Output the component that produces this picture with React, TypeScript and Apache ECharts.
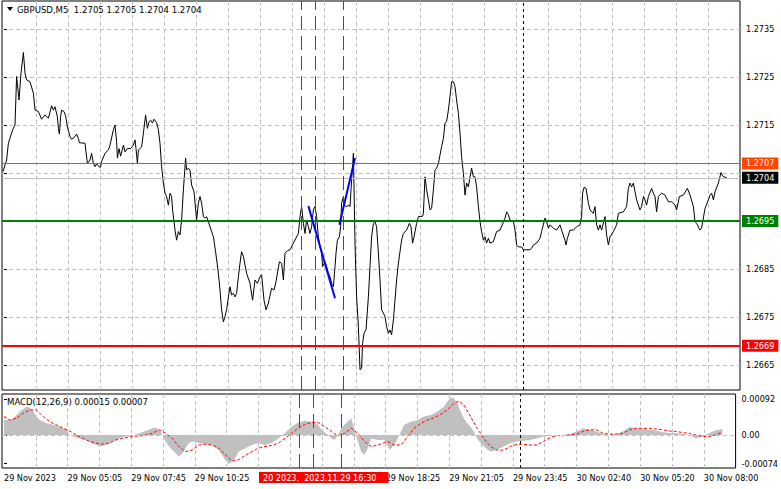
import React, { useEffect, useRef } from 'react';
import * as echarts from 'echarts';

const FONT = "'DejaVu Sans Condensed', 'Liberation Sans', Arial, sans-serif";

const SYMBOL = 'GBPUSD,M5';
const LAST_OHLC = [1.2705, 1.2705, 1.2704, 1.2704];
const MACD_PARAMS = '12,26,9';
const MACD_LAST = [0.00015, 0.00007];

// [bar number (5-minute bars from left edge), close price]
const CLOSE_POINTS: [number, number][] = [
  [-0.5,1.27053],[1.3,1.27077],[2.2,1.27112],[4.3,1.2714],[5.5,1.2715],[6.3,1.27251],[7.5,1.27202],[8.5,1.27258],[9.7,1.27301],[10.5,1.27258],
  [11.3,1.27244],[13,1.2724],[14.7,1.27216],[15.5,1.27181],[17.2,1.27178],[18.8,1.27162],[20.5,1.27171],[22.2,1.27164],[23.8,1.2719],[24.7,1.27181],
  [25.5,1.27188],[26.7,1.27167],[27.2,1.27143],[27.7,1.27131],[28.3,1.27167],[28.8,1.27181],[30,1.27178],[30.8,1.27169],[31.7,1.27146],[33,1.27126],
  [33.8,1.2712],[35.5,1.27126],[36.3,1.27131],[37.2,1.27122],[37.7,1.27113],[40.5,1.27112],[41,1.27094],[41.7,1.2707],[43,1.27077],[43.8,1.27091],
  [44.7,1.2707],[45.5,1.27063],[46.3,1.27069],[47.5,1.27063],[48.3,1.27062],[48.8,1.27074],[50.5,1.27091],[52.2,1.27098],[53,1.27108],[54.7,1.2714],
  [55.5,1.2715],[56.3,1.27115],[56.7,1.27081],[57.5,1.27101],[58.3,1.27085],[59.7,1.27108],[60.5,1.27094],[61.7,1.27101],[63.3,1.27101],[64.7,1.27108],
  [65.5,1.27119],[66,1.27101],[66.7,1.2707],[67.2,1.27098],[68.8,1.27104],[69.7,1.27133],[70.8,1.27171],[71.7,1.27143],[72.5,1.27157],[73.3,1.2716],
  [74.2,1.27154],[75,1.27162],[76.3,1.27155],[77.2,1.2714],[78,1.27112],[78.8,1.27063],[79.7,1.27029],[80.5,1.27008],[81.3,1.27001],[82.2,1.26983],
  [83,1.27008],[83.8,1.27001],[84.3,1.26973],[85.5,1.26931],[86.3,1.2691],[87.2,1.26928],[88,1.26921],[88.8,1.26952],[89.7,1.27015],[90.8,1.27081],
  [91.3,1.27056],[92.2,1.2706],[93,1.27056],[93.8,1.27025],[95,1.27011],[96.3,1.26952],[97.2,1.26987],[98,1.27001],[98.8,1.26987],[99.7,1.26959],
  [100.5,1.26956],[101.3,1.26959],[103,1.26938],[104.7,1.26917],[105.8,1.26886],[107.2,1.26841],[108,1.26806],[108.8,1.26765],[109.7,1.2674],[110.5,1.26751],
  [111.3,1.26765],[112.2,1.26792],[113,1.26813],[113.8,1.26796],[114.7,1.26799],[115.5,1.26792],[116.3,1.26799],[117.2,1.26834],[118,1.26862],[118.8,1.26886],
  [119.7,1.26876],[121.3,1.26841],[123,1.2682],[124.3,1.26785],[125.5,1.26827],[126.7,1.2682],[128,1.26834],[128.8,1.26838],[130,1.26785],[131,1.26765],
  [132.2,1.26779],[133.8,1.2681],[135,1.26806],[136,1.26824],[137.7,1.26865],[138.8,1.26862],[139.7,1.26827],[140.5,1.26883],[141.7,1.26888],[143,1.2689],
  [144.7,1.26904],[147.2,1.26924],[148,1.26959],[148.8,1.2698],[149.7,1.26945],[150.5,1.26924],[151.3,1.26952],[152.2,1.26938],[153,1.26924],[153.8,1.26938],
  [154.7,1.26973],[155.5,1.2698],[156.3,1.26959],[157.2,1.26917],[158,1.26896],[158.8,1.26883],[159.3,1.26855],[160.5,1.26865],[161.3,1.26855],[162.2,1.26841],
  [163,1.26834],[163.8,1.2682],[164.7,1.26813],[165.5,1.26855],[166,1.26883],[166.7,1.2691],[167.7,1.26917],[168.3,1.26938],[168.8,1.26987],[169.7,1.27001],
  [170,1.26983],[171.3,1.2698],[172.5,1.26983],[173,1.2698],[173.8,1.27035],[174.7,1.27091],[175.5,1.26904],[176.3,1.26792],[177.2,1.2673],[178,1.2664],
  [178.8,1.26643],[179.3,1.26695],[180,1.26716],[181,1.26723],[182.2,1.26792],[183,1.26855],[183.8,1.26917],[184.7,1.26945],[185.5,1.26949],[186.3,1.26938],
  [187.2,1.26883],[188,1.26827],[188.8,1.26765],[189.7,1.26758],[190.5,1.26751],[191.3,1.2673],[192.2,1.26716],[193,1.26723],[193.8,1.26713],[194.7,1.26744],
  [195.5,1.26785],[196.3,1.26827],[197.2,1.26862],[198.8,1.2691],[199.7,1.26924],[201.3,1.26931],[202.7,1.26945],[203.5,1.26938],[204.3,1.26904],[205,1.26917],
  [206.3,1.26945],[207.2,1.26959],[209.3,1.2696],[209.7,1.26966],[210.5,1.27042],[211.3,1.27015],[212.2,1.26994],[213,1.26973],[213.8,1.26976],[214.7,1.27015],
  [215.5,1.27056],[216.3,1.2706],[217.2,1.2707],[218.8,1.27105],[219.7,1.27122],[220.5,1.27154],[221.3,1.27157],[222.2,1.27181],[223,1.27209],[223.8,1.2724],
  [224.7,1.2724],[225.5,1.2723],[226.3,1.27202],[227.2,1.27174],[228,1.27133],[228.8,1.27084],[229.7,1.27049],[230.5,1.27004],[231.3,1.27029],[232.2,1.27021],
  [233,1.27042],[233.8,1.2706],[234.7,1.27042],[235.5,1.27042],[236.3,1.27021],[237.2,1.2698],[238,1.26949],[238.8,1.26928],[239.7,1.2691],[240.5,1.26917],
  [241.3,1.26904],[242.2,1.26914],[243,1.26904],[244.7,1.26907],[246.3,1.26928],[248,1.26931],[250.5,1.26956],[251.3,1.26969],[252.2,1.26963],[253,1.26952],
  [254.7,1.26949],[255.5,1.26931],[256.3,1.269],[257.2,1.26896],[258.8,1.26896],[259.7,1.2689],[263,1.2689],[263.8,1.26893],[264.7,1.269],[266.3,1.26904],
  [268,1.26914],[268.8,1.26928],[270.5,1.26956],[271.3,1.26949],[272.2,1.26935],[273,1.26942],[274.7,1.26935],[276.3,1.26931],[278,1.26942],[278.8,1.26931],
  [280.5,1.2691],[281,1.269],[281.7,1.26914],[283,1.26931],[284.7,1.26931],[286.3,1.26938],[288,1.26942],[288.8,1.26959],[289.3,1.27008],[290,1.2702],
  [291,1.27018],[292.2,1.26987],[293,1.26973],[294.7,1.26966],[295.5,1.2698],[296.3,1.26942],[297.2,1.26931],[298,1.26942],[298.8,1.26931],[300.5,1.26959],
  [301.3,1.26921],[302.2,1.269],[303,1.26917],[304.7,1.26928],[306.3,1.26942],[307.2,1.26966],[309.7,1.26969],[311.3,1.2698],[312.2,1.27018],[313,1.27029],
  [313.8,1.27021],[314.7,1.27029],[315.5,1.27011],[316.3,1.26994],[318,1.26973],[318.8,1.2698],[319.7,1.27001],[320.5,1.26994],[321.3,1.26983],[322.2,1.27001],
  [323.8,1.27018],[324.7,1.27008],[325.5,1.27001],[326.3,1.26969],[327.2,1.27001],[328.8,1.27008],[330.5,1.27004],[332.2,1.2699],[333.8,1.2699],[335.5,1.26983],
  [336.3,1.26973],[337.7,1.27001],[339.7,1.27004],[341.7,1.27018],[343,1.27004],[344.7,1.2698],[345.5,1.26949],[346.3,1.26945],[348,1.26931],[348.8,1.26935],
  [350.5,1.26976],[352.2,1.26994],[353,1.27004],[353.8,1.27008],[354.7,1.26994],[355.5,1.27011],[357.2,1.27029],[358.5,1.27051],[359.3,1.27044],[360.5,1.27041],
  [361.3,1.27041]
];

const MACD_HIST: [number, number][] = [
  [0,0.00038],[3,0.00038],[4.7,0.00043],[8,0.0006],[11.3,0.00072],[13,0.0007],[14.7,0.0006],[16.3,0.00047],[18,0.00038],[21.3,0.0003],
  [24.7,0.00026],[28,0.00021],[31.3,0.00013],[33,0],[34.7,-0.00004],[38,-0.00009],[41.3,-0.00013],[44.7,-0.00022],[48,-0.00029],[51.3,-0.00026],
  [54.7,-0.00017],[58,-0.00009],[61.3,-0.00004],[64.7,-0.00002],[68,0.00004],[71.3,0.0001],[74.7,0.00017],[76.3,0.00019],[78,0.00013],[79.7,0],
  [81.3,-0.00017],[83,-0.0003],[84.7,-0.00039],[86.3,-0.00047],[88,-0.00056],[89.7,-0.00047],[91.3,-0.00034],[93,-0.00021],[94.7,-0.00017],[98,-0.00021],
  [101.3,-0.00024],[104.7,-0.00026],[108,-0.00039],[111.3,-0.00064],[113,-0.00075],[114.7,-0.00069],[116.3,-0.0006],[118,-0.00043],[121.3,-0.00034],[124.7,-0.00026],
  [128,-0.00021],[131.3,-0.00026],[134.7,-0.00021],[138,-0.00009],[141.3,0.00004],[143,0.00013],[144.7,0.00021],[148,0.00032],[151.3,0.00036],[154.7,0.00034],
  [158,0.00026],[159.7,0.00013],[163,0],[164.7,-0.00009],[166.3,-0.00013],[168,0],[169.7,0.00017],[171.3,0.00027],[174.7,0.00043],[176.3,0.00013],
  [178,-0.00017],[179.7,-0.00043],[181.3,-0.00051],[183,-0.00034],[184.7,-0.00009],[188,-0.00013],[191.3,-0.00013],[194,-0.00039],[196.3,-0.00026],[198,-0.00009],
  [199.7,0.00009],[201.3,0.00026],[204.7,0.00034],[208,0.00038],[211.3,0.00047],[214.7,0.00051],[218,0.0006],[221.3,0.00072],[223,0.00086],[224.7,0.00096],
  [226.3,0.00094],[228,0.00081],[229.7,0.0006],[231.3,0.00043],[233,0.0003],[234.7,0.00021],[236.3,0.00009],[238,-0.00009],[239.7,-0.00021],[241.3,-0.0003],
  [244.7,-0.00043],[248,-0.00039],[251.3,-0.0003],[254.7,-0.00021],[258,-0.00017],[261.3,-0.00015],[264.7,-0.00013],[268,-0.00009],[271.3,-0.00004],[274.7,-0.00002],
  [278,0],[281.3,0],[284.7,0.00002],[288,0.00009],[291.3,0.00017],[294.7,0.00013],[298,0.00009],[301.3,0.00002],[304.7,0],[308,0.00002],
  [311.3,0.00009],[314.7,0.00021],[318,0.00017],[321.3,0.00017],[324.7,0.00013],[328,0.00011],[331.3,0.00007],[334.7,0.00004],[338,0.00004],[341.3,0.00002],
  [344.7,0],[348,-0.00009],[351.3,-0.00004],[354.5,0.00004],[358,0.00012],[361.3,0.00015]
];

const MACD_SIGNAL: [number, number][] = [
  [0,0.00047],[3,0.00038],[6.3,0.00043],[9.7,0.00056],[13,0.00064],[16.3,0.00064],[19.7,0.00047],[23,0.00034],[26.3,0.00026],[29.7,0.00017],
  [33,0.0001],[36.3,0],[39.7,-0.00009],[43,-0.00017],[46.3,-0.00021],[49.7,-0.00024],[53,-0.00021],[56.3,-0.00013],[59.7,-0.00009],[64.7,-0.00004],
  [69.7,-0.00002],[74.7,0.00004],[78,0.00013],[81.3,0.00004],[84.7,-0.00009],[88,-0.0003],[91.3,-0.00043],[94.7,-0.00039],[98,-0.00026],[101.3,-0.00024],
  [104.7,-0.00026],[108,-0.00034],[111.3,-0.00051],[114.7,-0.00067],[118,-0.00064],[121.3,-0.00053],[124.7,-0.00043],[128,-0.00034],[131.3,-0.0003],[134.7,-0.00027],
  [138,-0.00021],[141.3,-0.00009],[144.7,0.00004],[148,0.00017],[151.3,0.00027],[154.7,0.00032],[158,0.00032],[161.3,0.00021],[164.7,0.00009],[168,-0.00003],
  [171.3,0.00004],[174.7,0.00017],[178,0.00004],[181.3,-0.00017],[184.7,-0.0003],[188,-0.00026],[193,-0.00017],[196.3,-0.00026],[199.7,-0.00026],[203,-0.00004],
  [206.3,0.00017],[209.7,0.0003],[213,0.00038],[216.3,0.00044],[219.7,0.00053],[223,0.00064],[226.3,0.00081],[228.8,0.00087],[231.3,0.00077],[234.7,0.00047],
  [238,0.00017],[241.3,-0.00009],[244.7,-0.0003],[248,-0.00039],[251.3,-0.00039],[254.7,-0.0003],[258,-0.00024],[261.3,-0.00024],[264.7,-0.00026],[268,-0.00026],
  [271.3,-0.00017],[274.7,-0.00007],[278,-0.00002],[281.3,-0.00002],[284.7,0],[288,0.00002],[291.3,0.00009],[294.7,0.00013],[298,0.00013],[301.3,0.00004],
  [304.7,0.00002],[308,0.00002],[311.3,0.00004],[314.7,0.00013],[318,0.00017],[321.3,0.00017],[324.7,0.00017],[328,0.00015],[331.3,0.00013],[334.7,0.0001],
  [338,0.00009],[341.3,0.00006],[344.7,0.00004],[348,0],[351.3,-0.00004],[355,-0.00004],[358,0],[361.3,0.00007]
];

const TREND_DOWN: [number, number][] = [[152.2, 1.26981], [165.5, 1.26789]];
const TREND_UP: [number, number][] = [[167.7, 1.26942], [175.5, 1.27081]];

const LEVEL_HIGH = 1.2707;
const LEVEL_BID = 1.2704;
const LEVEL_SUPPORT = 1.2695;
const LEVEL_LOW = 1.2669;

const EVENT_BARS = [148.5, 155.5, 169.5];
const DAY_SEPARATOR_BAR = 259.5;
const EVENT_LABEL = '20 2023.  2023.11.29 16:30';

const PRICE_GRID_LEVELS = [1.2665, 1.2675, 1.2685, 1.2695, 1.2705, 1.2715, 1.2725, 1.2735];
const PRICE_LABEL_LEVELS = [1.2665, 1.2675, 1.2685, 1.2715, 1.2725, 1.2735];
const TIME_GRID_BARS = [16, 32, 48, 64, 80, 96, 112, 128, 144, 160, 176, 192, 208, 224, 240, 256, 272, 288, 304, 320, 336, 352];
const TIME_LABEL_BARS = [0, 32, 64, 96, 192, 224, 256, 288, 320, 352];
const TIME_LABELS = ['29 Nov 2023', '29 Nov 05:05', '29 Nov 07:45', '29 Nov 10:25', '29 Nov 18:25', '29 Nov 21:05', '29 Nov 23:45', '30 Nov 02:40', '30 Nov 05:20', '30 Nov 08:00'];
const MACD_LABEL_LEVELS = [0.00092, 0, -0.00074];

const GRID_LINE = { color: '#c0c0c0', width: 1, type: [4, 3] as number[] };

function levelLine(value: number, color: string, width: number) {
  return {
    yAxis: value,
    lineStyle: { color, width, type: 'solid' },
    label: {
      show: true,
      position: 'end',
      distance: 2,
      formatter: () => value.toFixed(4),
      backgroundColor: color === '#c0c0c0' ? '#000' : color,
      color: '#fff',
      padding: [2, 4, 1, 4],
      fontSize: 9,
      fontFamily: FONT,
    },
  };
}

function eventLines() {
  return [
    ...EVENT_BARS.map((b) => ({ xAxis: b, lineStyle: { color: '#ff0000', width: 1, type: [14, 6] } })),
    { xAxis: DAY_SEPARATOR_BAR, lineStyle: { color: '#000', width: 1, type: [3, 3] } },
  ];
}

export default function App() {
  const ref = useRef<HTMLDivElement>(null);
  useEffect(() => {
    document.body.style.margin = '0';
    if (!ref.current) return;
    const chart = echarts.init(ref.current, undefined, { renderer: 'svg' });
    const xCommon = {
      type: 'value',
      min: -1,
      max: 368,
      axisLine: { show: false },
      axisTick: { show: false, customValues: TIME_GRID_BARS },
      splitLine: { show: true, lineStyle: GRID_LINE },
    };
    const option: any = {
      animation: false,
      backgroundColor: '#fff',
      textStyle: { fontFamily: FONT },
      grid: [
        { left: 2, right: 41, top: 1, height: 389, show: true, borderColor: '#000', borderWidth: 1, backgroundColor: '#fff' },
        { left: 2, right: 41, top: 394, height: 74, show: true, borderColor: '#000', borderWidth: 1, backgroundColor: '#fff' },
      ],
      xAxis: [
        { ...xCommon, gridIndex: 0, axisLabel: { show: false } },
        {
          ...xCommon,
          gridIndex: 1,
          axisLabel: {
            show: true,
            customValues: TIME_LABEL_BARS,
            formatter: (v: number) => TIME_LABELS[TIME_LABEL_BARS.indexOf(v)] ?? '',
            align: 'left',
            margin: 5,
            color: '#000',
            fontSize: 9,
            fontFamily: FONT,
          },
        },
      ],
      yAxis: [
        {
          type: 'value',
          gridIndex: 0,
          position: 'right',
          min: 1.265979,
          max: 1.274083,
          axisLine: { show: false },
          axisTick: { show: true, length: 3, customValues: PRICE_GRID_LEVELS, lineStyle: { color: '#000' } },
          axisLabel: {
            customValues: PRICE_LABEL_LEVELS,
            formatter: (v: number) => v.toFixed(4),
            margin: 6,
            color: '#000',
            fontSize: 9,
            fontFamily: FONT,
          },
          splitLine: { show: true, lineStyle: GRID_LINE },
        },
        {
          type: 'value',
          gridIndex: 1,
          position: 'right',
          min: -0.00085,
          max: 0.00105,
          axisLine: { show: false },
          axisTick: { show: true, length: 3, customValues: MACD_LABEL_LEVELS, lineStyle: { color: '#000' } },
          axisLabel: {
            customValues: MACD_LABEL_LEVELS,
            formatter: (v: number) => (v === 0 ? '0.00' : v.toFixed(5)),
            margin: 6,
            color: '#000',
            fontSize: 9,
            fontFamily: FONT,
          },
          splitLine: { show: false },
        },
      ],
      series: [
        {
          type: 'line',
          xAxisIndex: 0,
          yAxisIndex: 0,
          data: CLOSE_POINTS,
          symbol: 'none',
          lineStyle: { color: '#000', width: 1 },
          z: 4,
          markLine: {
            silent: true,
            precision: 6,
            symbol: ['none', 'none'],
            data: [
              levelLine(LEVEL_BID, '#c0c0c0', 1),
              levelLine(LEVEL_SUPPORT, '#008000', 2),
              levelLine(LEVEL_LOW, '#ff0000', 2),
              levelLine(LEVEL_HIGH, '#ff4500', 1),
              ...eventLines().map((d) => ({ ...d, label: { show: false } })),
            ],
          },
        },
        {
          type: 'line', xAxisIndex: 0, yAxisIndex: 0, data: TREND_DOWN, symbol: 'none',
          lineStyle: { color: '#0000ff', width: 2 }, z: 5,
        },
        {
          type: 'line', xAxisIndex: 0, yAxisIndex: 0, data: TREND_UP, symbol: 'none',
          lineStyle: { color: '#0000ff', width: 2 }, z: 5,
        },
        {
          type: 'line',
          xAxisIndex: 1,
          yAxisIndex: 1,
          data: MACD_HIST,
          symbol: 'none',
          lineStyle: { width: 0, color: '#c0c0c0' },
          areaStyle: { color: '#c0c0c0', opacity: 1 },
          z: 2,
          markLine: {
            silent: true,
            precision: 6,
            symbol: ['none', 'none'],
            label: { show: false },
            data: [
              { yAxis: 0, lineStyle: { color: '#c0c0c0', width: 1, type: [4, 3] } },
              ...eventLines(),
            ],
          },
        },
        {
          type: 'line',
          xAxisIndex: 1,
          yAxisIndex: 1,
          data: MACD_SIGNAL,
          symbol: 'none',
          lineStyle: { color: '#ff0000', width: 1, type: [3, 2] },
          z: 4,
        },
      ],
      graphic: [
        { type: 'polygon', shape: { points: [[7, 7], [13, 7], [10, 11]] }, style: { fill: '#000' }, z: 10 },
        {
          type: 'text', left: 17, top: 4, z: 10,
          style: { text: `${SYMBOL}  ${LAST_OHLC.map((v) => v.toFixed(4)).join(' ')}`, fill: '#000', fontSize: 9.5, fontFamily: FONT },
        },
        {
          type: 'text', left: 7, top: 396, z: 10,
          style: { text: `MACD(${MACD_PARAMS}) ${MACD_LAST.map((v) => v.toFixed(5)).join(' ')}`, fill: '#000', fontSize: 9.5, fontFamily: FONT },
        },
        {
          type: 'text', left: 259, top: 472, z: 10,
          style: { text: EVENT_LABEL, fill: '#fff', backgroundColor: '#ff0000', padding: [1, 12, 1, 4], fontSize: 9, fontFamily: FONT },
        },
      ],
    };
    chart.setOption(option);
    return () => chart.dispose();
  }, []);
  return <div ref={ref} style={{ width: 781, height: 489 }} />;
}
